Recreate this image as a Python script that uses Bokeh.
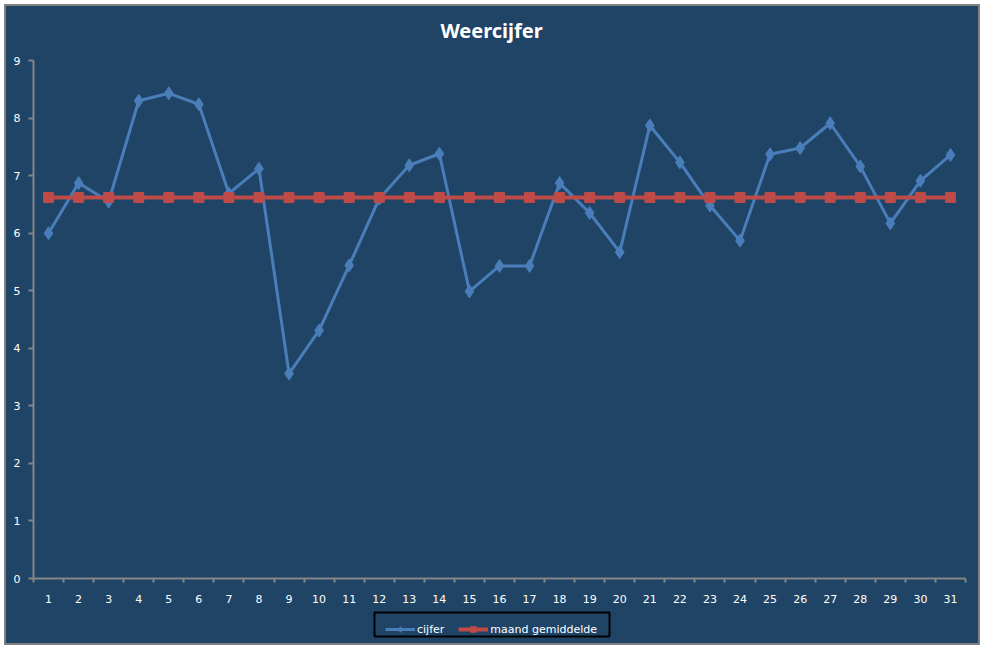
from bokeh.plotting import figure
from bokeh.models import FixedTicker, Legend, LegendItem, Range1d, Label, BoxAnnotation
from bokeh.layouts import column
from bokeh.embed import file_html
from bokeh.resources import INLINE

days = [1, 2, 3, 4, 5, 6, 7, 8, 9, 10, 11, 12, 13, 14, 15, 16,
        17, 18, 19, 20, 21, 22, 23, 24, 25, 26, 27, 28, 29, 30, 31]
cijfer = [6.0, 6.87, 6.55, 8.3, 8.43, 8.24, 6.69, 7.12, 3.56, 4.31, 5.44,
          6.6, 7.18, 7.38, 4.99, 5.43, 5.43, 6.87, 6.35, 5.67, 7.87, 7.23,
          6.48, 5.87, 7.37, 7.48, 7.91, 7.16, 6.17, 6.91, 7.36]
maand_gemiddelde = [6.62, 6.62, 6.62, 6.62, 6.62, 6.62, 6.62, 6.62, 6.62, 6.62,
                    6.62, 6.62, 6.62, 6.62, 6.62, 6.62, 6.62, 6.62, 6.62, 6.62,
                    6.62, 6.62, 6.62, 6.62, 6.62, 6.62, 6.62, 6.62, 6.62, 6.62, 6.62]
y_ticks = [0, 1, 2, 3, 4, 5, 6, 7, 8, 9]

BG = "#1F4466"
GRAY = "#868686"
BLUE = "#4A7EBB"
RED = "#BE4B48"
FONT = "DejaVu Sans"
W = 972


def bare(h):
    # strip whose frame is aligned (by the column) with the main chart's frame
    f = figure(width=W, height=h, output_backend="svg", toolbar_location=None,
               x_range=Range1d(0.5, 31.5), y_range=Range1d(20, 30),
               x_axis_location=None, y_axis_location=None, min_border=0,
               background_fill_color=BG, border_fill_color=BG,
               outline_line_color=None)
    f.xgrid.visible = False
    f.ygrid.visible = False
    return f


# title strip
p0 = bare(44)
p0.add_layout(Label(x=458, y=20, x_units="screen", y_units="screen",
                    text="Weercijfer", text_align="center", text_baseline="middle",
                    text_color="white", text_font="Noto Sans",
                    text_font_style="bold", text_font_size="20px"))

# main chart
p = figure(width=W, height=556, output_backend="svg", toolbar_location=None,
           x_range=Range1d(0.5, 31.5), y_range=Range1d(0, 9),
           min_border_left=27, min_border_right=13, min_border_top=10,
           min_border_bottom=28,
           background_fill_color=BG, border_fill_color=BG,
           outline_line_color=None)
p.xgrid.visible = False
p.ygrid.visible = False

minor = [d - 0.5 for d in days] + [days[-1] + 0.5]
p.xaxis.ticker = FixedTicker(ticks=days, minor_ticks=minor)
p.yaxis.ticker = FixedTicker(ticks=y_ticks, minor_ticks=[])
for ax in (p.xaxis, p.yaxis):
    ax.axis_line_color = GRAY
    ax.axis_line_width = 2
    ax.major_label_text_color = "white"
    ax.major_label_text_font = FONT
    ax.major_label_text_font_size = "11px"
    ax.major_tick_line_color = GRAY
    ax.major_tick_line_width = 2
    ax.minor_tick_line_color = GRAY
    ax.minor_tick_line_width = 2
p.xaxis.major_tick_line_color = None
p.xaxis.minor_tick_in = 0
p.xaxis.minor_tick_out = 4
p.xaxis.major_label_standoff = 10
p.yaxis.major_tick_in = 0
p.yaxis.major_tick_out = 5
p.yaxis.major_label_standoff = 8

p.line(days, cijfer, line_color=BLUE, line_width=3)
p.scatter(days, cijfer, marker="diamond", size=13, fill_color=BLUE, line_color=BLUE)
p.line(days, maand_gemiddelde, line_color=RED, line_width=4)
p.scatter(days, maand_gemiddelde, marker="square", size=10, fill_color=RED,
          line_color=RED)

# legend strip (its series lie outside its y range, only the legend shows)
p2 = bare(37)
g1 = p2.line(days, cijfer, line_color=BLUE, line_width=3)
m1 = p2.scatter(days, cijfer, marker="diamond", size=12, fill_color=BLUE,
                line_color=BLUE)
g2 = p2.line(days, maand_gemiddelde, line_color=RED, line_width=4)
m2 = p2.scatter(days, maand_gemiddelde, marker="square", size=11, fill_color=RED,
                line_color=RED)
legend = Legend(items=[LegendItem(label="cijfer", renderers=[g1, m1]),
                       LegendItem(label="maand gemiddelde", renderers=[g2, m2])],
                orientation="horizontal", location=(352, 7),
                border_line_color=None, background_fill_alpha=0,
                label_text_color="white", label_text_font=FONT,
                label_text_font_size="11px", glyph_width=30, glyph_height=14,
                spacing=14, padding=5, margin=0, label_standoff=2)
p2.add_layout(legend, "center")
p2.add_layout(BoxAnnotation(left=341, right=576, bottom=7, top=31,
                            left_units="screen", right_units="screen",
                            bottom_units="screen", top_units="screen",
                            fill_alpha=0, line_color="black", line_alpha=1,
                            line_width=2))

layout = column(p0, p, p2, spacing=0, margin=(4, 0, 0, 4),
                styles={"border": "2px solid #808080", "background-color": BG})

open("out.html", "w").write(file_html(layout, INLINE))
